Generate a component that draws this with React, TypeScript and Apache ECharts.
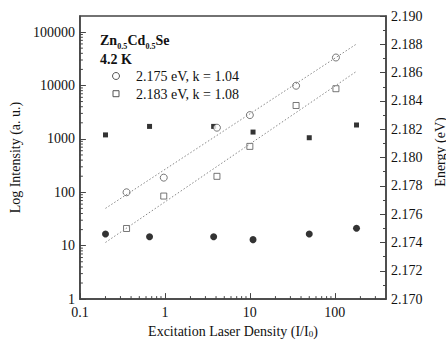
import React, { useEffect, useRef } from "react";
import * as echarts from "echarts";

// Integrated intensity (left axis, log) vs excitation density
const intensityX = [0.354, 0.97, 4.1, 10, 35, 103];
const intensity2175 = [100, 188, 1620, 2790, 9890, 33400];
const intensity2183 = [21, 85, 199, 724, 4220, 8700];

// Peak energy (right axis) vs excitation density
const energyX = [0.2, 0.66, 3.75, 10.9, 50, 180];
const energy2175 = [2.1746, 2.1744, 2.1744, 2.1742, 2.1746, 2.175];
const energy2183 = [2.1816, 2.1822, 2.1822, 2.1818, 2.1814, 2.1823];

// Power-law fits (dotted lines)
const fitX = [0.2, 180];
const fit2175 = [50, 59800];
const fit2183 = [11.5, 18400];

// Log minor tick positions
const xMinorTicks = [
  0.2, 0.3, 0.4, 0.5, 0.6, 0.7, 0.8, 0.9,
  2, 3, 4, 5, 6, 7, 8, 9,
  20, 30, 40, 50, 60, 70, 80, 90,
  200, 300,
];
const yMinorTicks = [
  2, 3, 4, 5, 6, 7, 8, 9,
  20, 30, 40, 50, 60, 70, 80, 90,
  200, 300, 400, 500, 600, 700, 800, 900,
  2000, 3000, 4000, 5000, 6000, 7000, 8000, 9000,
  20000, 30000, 40000, 50000, 60000, 70000, 80000, 90000,
];

const X_MIN = 0.1;
const X_MAX = 400;
const Y_MIN = 1;
const Y_MAX = 200000;

const FONT = "Liberation Serif";
const AXIS_COLOR = "#444";
const TEXT_COLOR = "#111";

function logLabel(v: number): string {
  const l = Math.log10(v);
  if (Math.abs(l - Math.round(l)) > 1e-6) return "";
  const p = Math.round(l);
  return p < 0 ? Number(Math.pow(10, p).toFixed(-p)).toString() : String(Math.pow(10, p));
}

function boldText(text: string, x: number, y: number, size: number) {
  return {
    type: "text",
    x,
    y,
    style: {
      text,
      fontSize: size,
      fontWeight: "bold",
      fontFamily: FONT,
      fill: TEXT_COLOR,
      verticalAlign: "middle",
      align: "left",
    },
  };
}

export default function App() {
  const ref = useRef<HTMLDivElement>(null);

  useEffect(() => {
    if (!ref.current) return;
    const chart = echarts.init(ref.current, undefined, { renderer: "svg" });

    const option: any = {
      animation: false,
      backgroundColor: "#fff",
      textStyle: { fontFamily: FONT, color: TEXT_COLOR },
      grid: {
        left: 77,
        right: 60,
        top: 16,
        bottom: 40,
        show: true,
        borderColor: AXIS_COLOR,
        borderWidth: 1.5,
        backgroundColor: "transparent",
      },
      xAxis: [
        {
          type: "log",
          logBase: 10,
          min: X_MIN,
          max: X_MAX,
          position: "bottom",
          axisLine: { show: true, lineStyle: { color: AXIS_COLOR, width: 1.5 } },
          axisTick: { show: true, inside: true, length: 6, lineStyle: { color: AXIS_COLOR } },
          splitLine: { show: false },
          axisLabel: {
            margin: 6,
            fontSize: 14,
            fontFamily: FONT,
            color: TEXT_COLOR,
            showMaxLabel: false,
            formatter: (v: number) => logLabel(v),
          },
          name: "Excitation Laser Density (I/I{sub|0})",
          nameLocation: "middle",
          nameGap: 21,
          nameTextStyle: {
            fontSize: 14,
            fontFamily: FONT,
            color: TEXT_COLOR,
            rich: {
              sub: { fontSize: 9, fontFamily: FONT, color: TEXT_COLOR, verticalAlign: "bottom", lineHeight: 8 },
            },
          },
        },
      ],
      yAxis: [
        {
          type: "log",
          logBase: 10,
          min: Y_MIN,
          max: Y_MAX,
          position: "left",
          axisLine: { show: true, lineStyle: { color: AXIS_COLOR, width: 1.5 } },
          axisTick: { show: true, inside: true, length: 6, lineStyle: { color: AXIS_COLOR } },
          splitLine: { show: false },
          axisLabel: {
            margin: 5,
            fontSize: 14,
            fontFamily: FONT,
            color: TEXT_COLOR,
            showMaxLabel: false,
            formatter: (v: number) => logLabel(v),
          },
          name: "Log Intensity (a. u.)",
          nameLocation: "middle",
          nameGap: 53,
          nameRotate: 90,
          nameTextStyle: { fontSize: 14, fontFamily: FONT, color: TEXT_COLOR },
        },
        {
          type: "value",
          min: 2.17,
          max: 2.19,
          interval: 0.002,
          position: "right",
          axisLine: { show: true, lineStyle: { color: AXIS_COLOR, width: 1.5 } },
          axisTick: { show: true, inside: true, length: 6, lineStyle: { color: AXIS_COLOR } },
          minorTick: { show: true, splitNumber: 2, length: 3, lineStyle: { color: AXIS_COLOR } },
          splitLine: { show: false },
          axisLabel: {
            margin: 5,
            fontSize: 14,
            fontFamily: FONT,
            color: TEXT_COLOR,
            formatter: (v: number) => v.toFixed(3),
          },
        },
      ],
      series: [
        {
          type: "custom",
          name: "xMinor",
          xAxisIndex: 0,
          yAxisIndex: 0,
          silent: true,
          clip: false,
          data: xMinorTicks.map((v) => [v, Y_MIN]),
          renderItem: (_p: any, api: any) => {
            const pt = api.coord([api.value(0), Y_MIN]);
            return {
              type: "line",
              shape: { x1: pt[0], y1: pt[1], x2: pt[0], y2: pt[1] - 3 },
              style: { stroke: AXIS_COLOR, lineWidth: 1 },
            };
          },
        },
        {
          type: "custom",
          name: "yMinor",
          xAxisIndex: 0,
          yAxisIndex: 0,
          silent: true,
          clip: false,
          data: yMinorTicks.map((v) => [X_MIN, v]),
          renderItem: (_p: any, api: any) => {
            const pt = api.coord([X_MIN, api.value(1)]);
            return {
              type: "line",
              shape: { x1: pt[0], y1: pt[1], x2: pt[0] + 3, y2: pt[1] },
              style: { stroke: AXIS_COLOR, lineWidth: 1 },
            };
          },
        },
        {
          type: "line",
          name: "fit 2.175",
          yAxisIndex: 0,
          symbol: "none",
          data: fitX.map((x, i) => [x, fit2175[i]]),
          lineStyle: { color: "#888", width: 1, type: [1.5, 2] },
        },
        {
          type: "line",
          name: "fit 2.183",
          yAxisIndex: 0,
          symbol: "none",
          data: fitX.map((x, i) => [x, fit2183[i]]),
          lineStyle: { color: "#888", width: 1, type: [1.5, 2] },
        },
        {
          type: "scatter",
          name: "E 2.183",
          yAxisIndex: 1,
          symbol: "rect",
          symbolSize: 5,
          itemStyle: { color: "#000" },
          data: energyX.map((x, i) => [x, energy2183[i]]),
        },
        {
          type: "scatter",
          name: "E 2.175",
          yAxisIndex: 1,
          symbol: "circle",
          symbolSize: 7,
          itemStyle: { color: "#000" },
          data: energyX.map((x, i) => [x, energy2175[i]]),
        },
        {
          type: "scatter",
          name: "I 2.175",
          yAxisIndex: 0,
          symbol: "circle",
          symbolSize: 7,
          itemStyle: { color: "#fff", borderColor: "#555", borderWidth: 1 },
          data: intensityX.map((x, i) => [x, intensity2175[i]]),
        },
        {
          type: "scatter",
          name: "I 2.183",
          yAxisIndex: 0,
          symbol: "rect",
          symbolSize: 6,
          itemStyle: { color: "#fff", borderColor: "#555", borderWidth: 1 },
          data: intensityX.map((x, i) => [x, intensity2183[i]]),
        },
      ],
      graphic: [
        boldText("Zn", 100, 40, 14),
        boldText("0.5", 117.3, 46.5, 8),
        boldText("Cd", 127.5, 40, 14),
        boldText("0.5", 145.5, 46.5, 8),
        boldText("Se", 155.5, 40, 14),
        boldText("4.2 K", 100, 59, 14),
        {
          type: "circle",
          shape: { cx: 116, cy: 76, r: 3.5 },
          style: { fill: "#fff", stroke: "#555", lineWidth: 1 },
        },
        {
          type: "text",
          x: 136,
          y: 76,
          style: {
            text: "2.175 eV, k = 1.04",
            fontSize: 14,
            fontFamily: FONT,
            fill: TEXT_COLOR,
            verticalAlign: "middle",
          },
        },
        {
          type: "rect",
          shape: { x: 113, y: 90.7, width: 6, height: 6 },
          style: { fill: "#fff", stroke: "#555", lineWidth: 1 },
        },
        {
          type: "text",
          x: 136,
          y: 94,
          style: {
            text: "2.183 eV, k = 1.08",
            fontSize: 14,
            fontFamily: FONT,
            fill: TEXT_COLOR,
            verticalAlign: "middle",
          },
        },
        {
          type: "text",
          x: 440,
          y: 152,
          rotation: Math.PI / 2,
          style: {
            text: "Energy (eV)",
            fontSize: 14,
            fontFamily: FONT,
            fill: TEXT_COLOR,
            align: "center",
            verticalAlign: "middle",
          },
        },
      ],
    };

    chart.setOption(option);
    return () => chart.dispose();
  }, []);

  return (
    <div
      ref={ref}
      style={{ position: "fixed", left: 0, top: 0, width: 446, height: 343, background: "#fff" }}
    />
  );
}
